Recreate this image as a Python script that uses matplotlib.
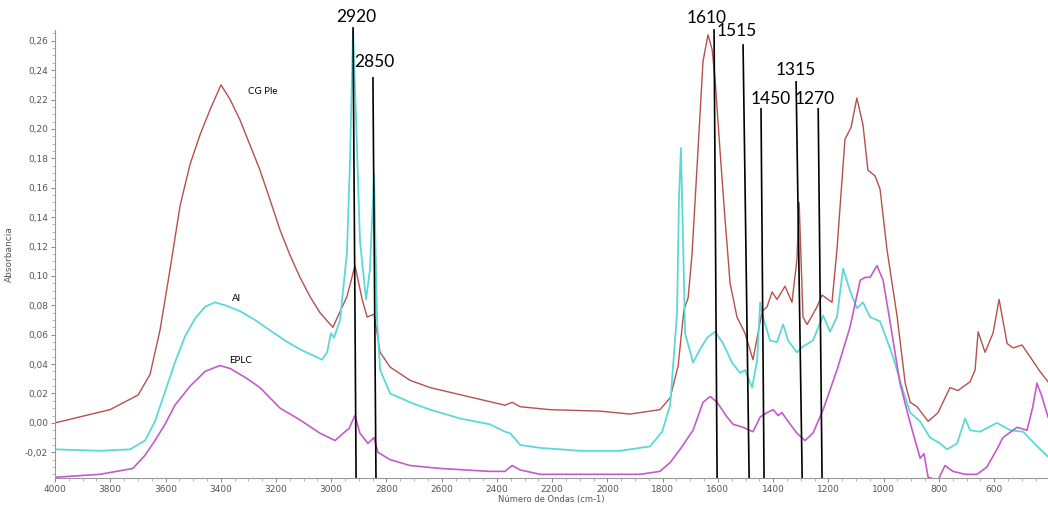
import matplotlib
matplotlib.use("Agg")
import matplotlib.pyplot as plt
from matplotlib.ticker import MultipleLocator, FuncFormatter

# espectros (numero de onda em cm-1, absorbancia)
cg_ondas = [4000, 3801, 3699, 3656, 3620, 3584, 3547, 3511, 3475, 3439, 3399, 3366, 3330, 3294,
            3258, 3222, 3185, 3149, 3113, 3077, 3041, 2994, 2943, 2914, 2888, 2870, 2845, 2823,
            2787, 2715, 2642, 2461, 2371, 2345, 2316, 2208, 2027, 1918, 1810, 1773, 1744, 1723,
            1708, 1694, 1672, 1654, 1636, 1621, 1610, 1592, 1574, 1556, 1531, 1502, 1473, 1455,
            1440, 1422, 1404, 1386, 1357, 1332, 1314, 1306, 1292, 1277, 1241, 1223, 1187, 1169,
            1140, 1118, 1097, 1075, 1057, 1031, 1013, 988, 951, 922, 904, 879, 839, 803, 760,
            731, 687, 669, 658, 633, 604, 582, 553, 531, 499, 470, 434, 405]
cg_abs = [0.000, 0.009, 0.019, 0.033, 0.063, 0.104, 0.148, 0.176, 0.196, 0.213, 0.230, 0.220,
          0.206, 0.189, 0.172, 0.152, 0.131, 0.114, 0.099, 0.086, 0.075, 0.065, 0.086, 0.107,
          0.084, 0.072, 0.074, 0.048, 0.038, 0.029, 0.024, 0.016, 0.012, 0.014, 0.011, 0.009,
          0.008, 0.006, 0.009, 0.017, 0.039, 0.077, 0.085, 0.114, 0.186, 0.246, 0.264, 0.254,
          0.233, 0.184, 0.138, 0.095, 0.072, 0.061, 0.043, 0.061, 0.076, 0.079, 0.089, 0.084,
          0.093, 0.082, 0.111, 0.150, 0.072, 0.067, 0.079, 0.087, 0.082, 0.118, 0.193, 0.201,
          0.221, 0.203, 0.172, 0.168, 0.159, 0.118, 0.072, 0.027, 0.014, 0.011, 0.001, 0.007,
          0.024, 0.022, 0.028, 0.036, 0.062, 0.048, 0.061, 0.084, 0.054, 0.051, 0.053, 0.045,
          0.035, 0.028]

al_ondas = [4000, 3837, 3728, 3674, 3638, 3602, 3566, 3529, 3493, 3457, 3421, 3384, 3330, 3276,
            3222, 3167, 3113, 3033, 3015, 3001, 2990, 2968, 2943, 2932, 2921, 2910, 2896, 2874,
            2860, 2845, 2834, 2823, 2787, 2715, 2642, 2534, 2425, 2371, 2353, 2338, 2316, 2244,
            2099, 1954, 1846, 1802, 1773, 1748, 1741, 1734, 1727, 1719, 1690, 1665, 1639, 1610,
            1581, 1549, 1520, 1502, 1476, 1458, 1447, 1437, 1411, 1386, 1364, 1346, 1314, 1292,
            1256, 1219, 1194, 1169, 1147, 1122, 1097, 1075, 1049, 1013, 966, 930, 904, 868, 832,
            796, 770, 734, 705, 687, 651, 590, 542, 495, 444, 405]
al_abs = [-0.018, -0.019, -0.018, -0.012, 0.001, 0.021, 0.041, 0.059, 0.071, 0.079, 0.082, 0.080,
          0.076, 0.070, 0.063, 0.056, 0.050, 0.043, 0.048, 0.061, 0.058, 0.070, 0.116, 0.179,
          0.267, 0.206, 0.124, 0.084, 0.104, 0.169, 0.070, 0.036, 0.020, 0.014, 0.009, 0.003,
          -0.001, -0.006, -0.007, -0.010, -0.015, -0.017, -0.019, -0.019, -0.016, -0.006, 0.012,
          0.075, 0.152, 0.187, 0.131, 0.061, 0.041, 0.050, 0.058, 0.062, 0.054, 0.041, 0.034,
          0.036, 0.024, 0.043, 0.082, 0.072, 0.056, 0.055, 0.067, 0.056, 0.048, 0.052, 0.056,
          0.073, 0.062, 0.072, 0.105, 0.090, 0.078, 0.082, 0.072, 0.069, 0.045, 0.022, 0.007,
          0.001, -0.010, -0.014, -0.018, -0.014, 0.003, -0.005, -0.006, 0.000, -0.005, -0.006,
          -0.016, -0.023]

eplc_ondas = [4000, 3837, 3718, 3674, 3638, 3602, 3566, 3511, 3457, 3403, 3366, 3312, 3258, 3185,
              3113, 3041, 2986, 2950, 2936, 2914, 2896, 2867, 2845, 2831, 2787, 2715, 2606, 2425,
              2371, 2345, 2316, 2244, 2027, 1882, 1810, 1773, 1737, 1690, 1654, 1628, 1603, 1567,
              1545, 1509, 1473, 1447, 1422, 1400, 1382, 1368, 1350, 1314, 1285, 1256, 1219, 1169,
              1122, 1085, 1067, 1049, 1024, 1002, 970, 941, 904, 868, 854, 839, 803, 778, 749, 705,
              662, 626, 590, 568, 517, 481, 460, 445, 427, 405]
eplc_abs = [-0.037, -0.035, -0.031, -0.022, -0.012, -0.001, 0.012, 0.025, 0.035, 0.039, 0.037,
            0.031, 0.024, 0.010, 0.002, -0.007, -0.012, -0.006, -0.004, 0.005, -0.007, -0.014,
            -0.010, -0.020, -0.025, -0.029, -0.031, -0.033, -0.033, -0.029, -0.032, -0.035,
            -0.035, -0.035, -0.033, -0.027, -0.018, -0.005, 0.014, 0.018, 0.014, 0.004, -0.001,
            -0.003, -0.006, 0.004, 0.007, 0.009, 0.005, 0.007, 0.002, -0.007, -0.012, -0.007,
            0.009, 0.036, 0.065, 0.097, 0.099, 0.099, 0.107, 0.097, 0.061, 0.027, 0.000, -0.024,
            -0.021, -0.037, -0.039, -0.029, -0.033, -0.035, -0.035, -0.030, -0.018, -0.010,
            -0.003, -0.005, 0.011, 0.027, 0.018, 0.004]

# bandas marcadas (rotulo, onda no topo, onda na base, absorbancia do topo)
bandas = ['2920', '2850', '1610', '1515', '1450', '1315', '1270']
banda_topo = [2921, 2849, 1614, 1509, 1444, 1317, 1237]
banda_base = [2910, 2838, 1603, 1487, 1433, 1295, 1223]
banda_y = [0.2687, 0.2347, 0.2673, 0.2571, 0.2136, 0.2320, 0.2136]
# posicao dos rotulos
rot_x = [2910, 2844, 1640, 1532, 1410, 1317, 1250]
rot_y = [0.2760, 0.2455, 0.2755, 0.2665, 0.2205, 0.2400, 0.2205]

fig = plt.figure(figsize=(10.48, 5.07), dpi=100)
ax = fig.add_axes([0.0525, 0.0572, 0.9475, 0.8836])

ax.plot(cg_ondas, cg_abs, color='#b5504c', lw=1.0)
ax.plot(al_ondas, al_abs, color='#5cd8d8', lw=1.3)
ax.plot(eplc_ondas, eplc_abs, color='#c35bca', lw=1.2)

for i in range(len(bandas)):
    ax.plot([banda_topo[i], banda_base[i]], [banda_y[i], -0.0375], color='black', lw=1.2, clip_on=False)
    ax.text(rot_x[i], rot_y[i], bandas[i], fontsize=12.5, family='Lato', ha='center', va='center')

ax.text(3300, 0.224, 'CG Ple', fontsize=7, family='Lato')
ax.text(3360, 0.083, 'Al', fontsize=7, family='Lato')
ax.text(3370, 0.041, 'EPLC', fontsize=7, family='Lato')

ax.set_xlim(4000, 405)
ax.set_ylim(-0.0375, 0.2673)

ax.xaxis.set_major_locator(MultipleLocator(200))
ax.xaxis.set_minor_locator(MultipleLocator(50))
ax.yaxis.set_major_locator(MultipleLocator(0.02))
ax.yaxis.set_minor_locator(MultipleLocator(0.005))
ax.yaxis.set_major_formatter(FuncFormatter(lambda v, p: ('%.2f' % v).replace('.', ',')))
ax.xaxis.set_major_formatter(FuncFormatter(lambda v, p: '%d' % v))

for s in ['top', 'right']:
    ax.spines[s].set_visible(False)
for s in ['left', 'bottom']:
    ax.spines[s].set_color('#999999')
    ax.spines[s].set_linewidth(0.8)

ax.tick_params(which='major', length=3, width=0.7, color='#888888', labelsize=6.5,
               labelcolor='#555555', pad=2)
ax.tick_params(which='minor', length=2, width=0.5, color='#999999')

ax.set_xlabel('Número de Ondas (cm-1)', fontsize=6, color='#555555', labelpad=1)
ax.set_ylabel('Absorbancia', fontsize=6.5, color='#555555', labelpad=8)

fig.savefig('out.png', dpi=100)
